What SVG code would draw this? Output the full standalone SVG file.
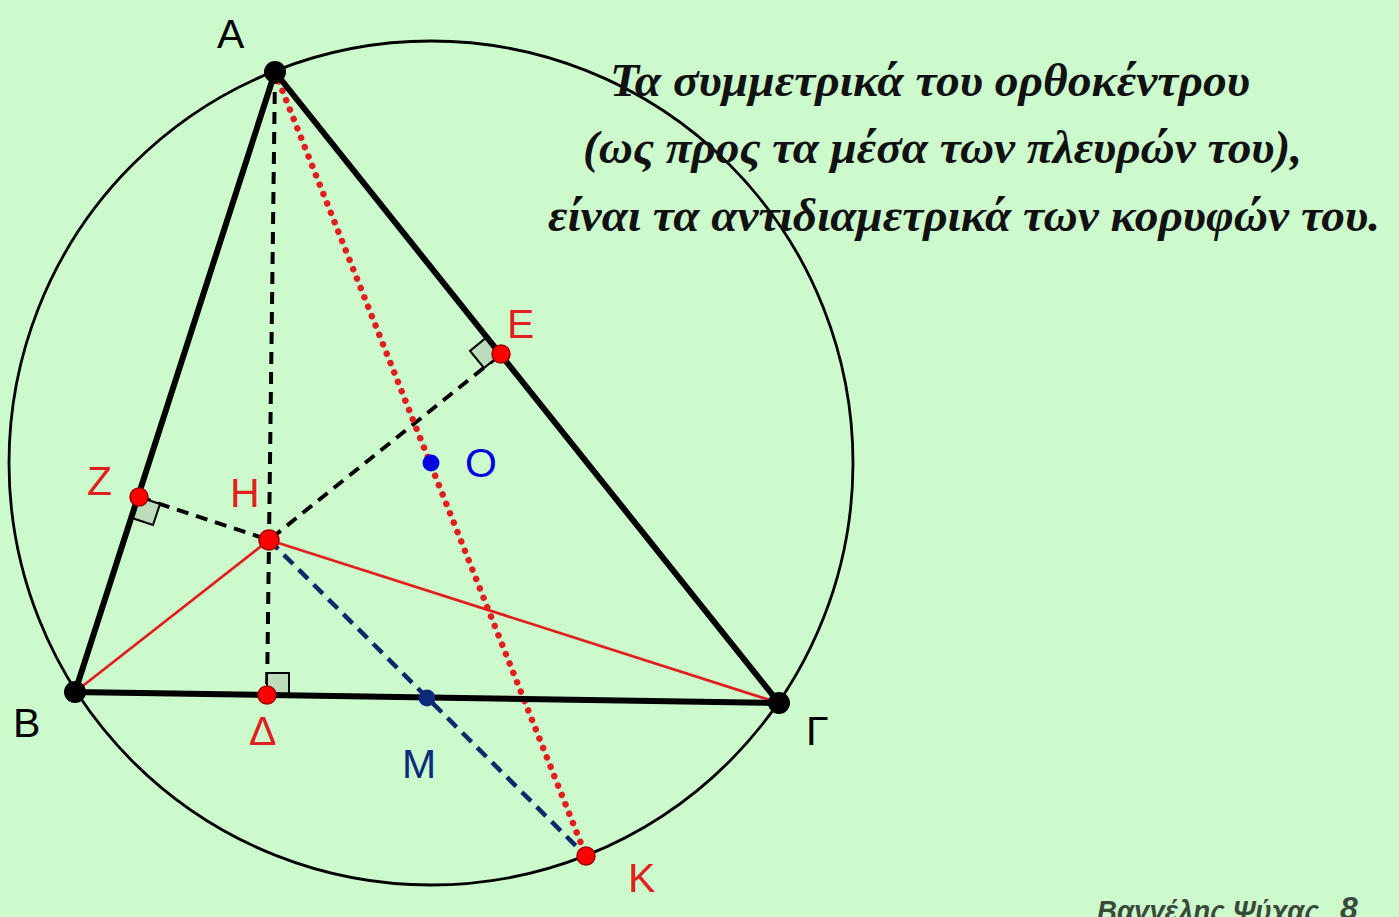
<svg xmlns="http://www.w3.org/2000/svg" width="1399" height="917" viewBox="0 0 1399 917">
<style>
.tri{stroke:#000;stroke-width:6;stroke-linecap:round;fill:none}
.circ{stroke:#000;stroke-width:2.8;fill:none}
.dash{stroke:#000;stroke-width:4;stroke-dasharray:12 8;fill:none}
.red{stroke:#e02020;stroke-width:2.8;fill:none}
.navy{stroke:#0a2a6a;stroke-width:4.5;stroke-dasharray:13 8;fill:none}
.dot{stroke:#e02020;stroke-width:6.5;stroke-dasharray:0.1 10;stroke-linecap:round;fill:none}
.ra{stroke:#000;stroke-width:2;fill:#bcdcbc}
.pk{fill:#000}
.pr{fill:#ff0000;stroke:#a00000;stroke-width:1.5}
.lbl{font-family:"Liberation Sans",Arial,sans-serif;font-size:41px}
.txt{font-family:"Liberation Serif","Times New Roman",serif;font-size:46px;font-weight:bold;font-style:italic;fill:#111}
</style>
<rect width="1399" height="917" fill="#ccfacc"/>
<g id="circle"><circle class="circ" cx="431" cy="463" r="422"/></g>
<g id="connectors">
<line class="dash" x1="275" y1="72" x2="267" y2="695"/>
<polyline class="dash" points="139,497 269,540 501,354"/>
<line class="red" x1="269" y1="540" x2="75" y2="692"/>
<line class="red" x1="269" y1="540" x2="779" y2="703"/>
<line class="navy" x1="269" y1="540" x2="586" y2="856"/>
<line class="dot" x1="275" y1="72" x2="586" y2="856"/>
<polygon class="ra" points="267,695 289,695 289,673 267,673"/>
<polygon class="ra" points="501,354 487,337 470,351 484,368"/>
<polygon class="ra" points="139,497 160,504 153,525 132,518"/>
<polyline class="tri" points="275,72 75,692 779,703 275,72"/>
</g>
<g id="A"><circle class="pk" cx="275" cy="72" r="11"/><text class="lbl" x="217" y="48">A</text></g>
<g id="B"><circle class="pk" cx="75" cy="692" r="11"/><text class="lbl" x="13" y="737">B</text></g>
<g id="G"><circle class="pk" cx="779" cy="703" r="11"/><text class="lbl" x="806" y="745">Γ</text></g>
<g id="E"><circle class="pr" cx="501" cy="354" r="9"/><text class="lbl" x="507" y="338" fill="#e02020">E</text></g>
<g id="Z"><circle class="pr" cx="139" cy="497" r="9"/><text class="lbl" x="87" y="495" fill="#e02020">Z</text></g>
<g id="H"><circle class="pr" cx="269" cy="540" r="10"/><text class="lbl" x="230" y="507" fill="#e02020">H</text></g>
<g id="D"><circle class="pr" cx="267" cy="695" r="9"/><text class="lbl" x="249" y="745" fill="#e02020">Δ</text></g>
<g id="K"><circle class="pr" cx="586" cy="856" r="9"/><text class="lbl" x="628" y="892" fill="#e02020">K</text></g>
<g id="O"><circle cx="431" cy="463" r="8.5" fill="#0000e0"/><text class="lbl" x="465" y="477" fill="#0000e0">O</text></g>
<g id="M"><circle cx="427" cy="698" r="8.5" fill="#0a2a7a"/><text class="lbl" x="402" y="778" fill="#0a2a7a">M</text></g>
<g id="caption">
<text class="txt" x="610" y="96" textLength="640" lengthAdjust="spacingAndGlyphs">Τα συμμετρικά του ορθοκέντρου</text>
<text class="txt" x="583" y="163" textLength="719" lengthAdjust="spacingAndGlyphs">(ως προς τα μέσα των πλευρών του),</text>
<text class="txt" x="548" y="231" textLength="832" lengthAdjust="spacingAndGlyphs">είναι τα αντιδιαμετρικά των κορυφών του.</text>
</g>
<g id="author">
<text x="1097" y="921" font-family="Liberation Sans,Arial,sans-serif" font-size="30" font-weight="bold" font-style="italic" fill="#3a4a3a" textLength="222" lengthAdjust="spacingAndGlyphs">Βαγγέλης Ψύχας</text>
<text x="1340" y="919" font-family="Liberation Sans,Arial,sans-serif" font-size="32" font-weight="bold" font-style="italic" fill="#3a4a3a">8</text>
</g>
</svg>
